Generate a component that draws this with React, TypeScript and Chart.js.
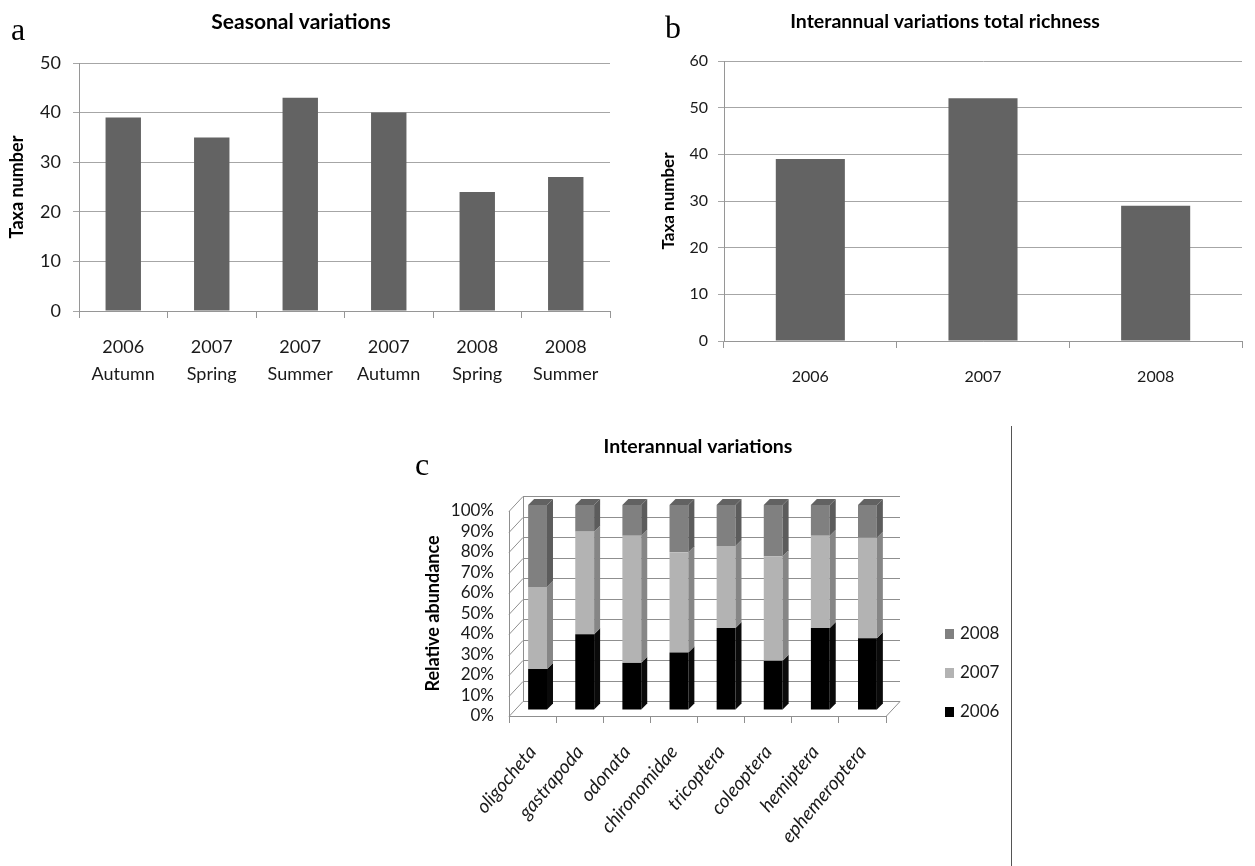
import React, { useEffect, useRef } from 'react';
import Chart from 'chart.js/auto';

const FONT = "Lato, 'Open Sans', sans-serif";
Chart.defaults.font.family = FONT;

// ---------- Data ----------
// Panel a: seasonal variations
const seasonLabels = [
  ['2006', 'Autumn'],
  ['2007', 'Spring'],
  ['2007', 'Summer'],
  ['2007', 'Autumn'],
  ['2008', 'Spring'],
  ['2008', 'Summer'],
];
const seasonTaxa = [39, 35, 43, 40, 24, 27];
const seasonTicks = { min: 0, max: 50, step: 10 };

// Panel b: interannual total richness
const yearLabels = ['2006', '2007', '2008'];
const yearTaxa = [39, 52, 29];
const yearTicks = { min: 0, max: 60, step: 10 };

// Panel c: interannual relative abundance (%)
const taxaGroups = [
  'oligocheta',
  'gastrapoda',
  'odonata',
  'chironomidae',
  'tricoptera',
  'coleoptera',
  'hemiptera',
  'ephemeroptera',
];
const abund2006 = [20, 37, 23, 28, 40, 24, 40, 35];
const abund2007 = [40, 50, 62, 49, 40, 51, 45, 49];
const abund2008 = [40, 13, 15, 23, 20, 25, 15, 16];
const seriesYears = ['2006', '2007', '2008'];

// ---------- Styles ----------
const BAR = '#636363';
const GRID = '#a6a6a6';
const AXIS = '#969696';
const TXT = '#1a1a1a';
const C3D = ['#000000', '#b3b3b3', '#808080'];
const C3D_SIDE = ['#0a0a0a', '#868686', '#5c5c5c'];
const C3D_TOP = '#626262';
const GRID3D = '#8f8f8f';

// ---------- Plugins ----------
const panelTitle = {
  id: 'panelTitle',
  afterDraw(chart: any, _args: any, opts: any) {
    if (!opts || !opts.text) return;
    const ctx = chart.ctx;
    ctx.save();
    ctx.font = `bold ${opts.size}px ${FONT}`;
    ctx.fillStyle = '#000';
    ctx.textAlign = 'center';
    ctx.textBaseline = 'middle';
    ctx.fillText(opts.text, opts.x, opts.y);
    ctx.restore();
  },
};

const WALL_DX = 14;
const WALL_DY = 15;
const BAR_DX = 5;
const BAR_DY = 6;
const BAR_DEPTH = 6;

const wall3d = {
  id: 'wall3d',
  beforeDatasetsDraw(chart: any) {
    const { ctx, chartArea: a, scales } = chart;
    const y = scales.y;
    ctx.save();
    ctx.strokeStyle = GRID3D;
    ctx.lineWidth = 1;
    ctx.beginPath();
    y.ticks.forEach((t: any) => {
      const py = Math.round(y.getPixelForValue(t.value)) + 0.5;
      ctx.moveTo(a.left, py);
      ctx.lineTo(a.left + WALL_DX, py - WALL_DY);
      ctx.lineTo(a.right + WALL_DX, py - WALL_DY);
    });
    const bx = Math.round(a.left + WALL_DX) + 0.5;
    ctx.moveTo(bx, Math.round(y.getPixelForValue(100)) - WALL_DY);
    ctx.lineTo(bx, Math.round(y.getPixelForValue(0)) - WALL_DY);
    ctx.moveTo(a.right, Math.round(a.bottom) + 0.5);
    ctx.lineTo(a.right + WALL_DX, Math.round(a.bottom) + 0.5 - WALL_DY);
    ctx.stroke();
    ctx.restore();
    ctx.save();
    ctx.translate(BAR_DX, -BAR_DY);
  },
  afterDatasetsDraw(chart: any) {
    const ctx = chart.ctx;
    const n = chart.data.datasets.length;
    for (let i = 0; i < n; i++) {
      const meta = chart.getDatasetMeta(i);
      meta.data.forEach((bar: any) => {
        const p = bar.getProps(['x', 'y', 'base', 'width'], true);
        const x1 = p.x - p.width / 2;
        const x2 = p.x + p.width / 2;
        const top = Math.min(p.y, p.base);
        const bot = Math.max(p.y, p.base);
        ctx.fillStyle = C3D_SIDE[i];
        ctx.beginPath();
        ctx.moveTo(x2, bot);
        ctx.lineTo(x2 + BAR_DEPTH, bot - BAR_DEPTH);
        ctx.lineTo(x2 + BAR_DEPTH, top - BAR_DEPTH);
        ctx.lineTo(x2, top);
        ctx.closePath();
        ctx.fill();
        if (i === n - 1) {
          ctx.fillStyle = C3D_TOP;
          ctx.beginPath();
          ctx.moveTo(x1, top);
          ctx.lineTo(x1 + BAR_DEPTH, top - BAR_DEPTH);
          ctx.lineTo(x2 + BAR_DEPTH, top - BAR_DEPTH);
          ctx.lineTo(x2, top);
          ctx.closePath();
          ctx.fill();
        }
      });
    }
    ctx.restore();
  },
};

const sideLegend = {
  id: 'sideLegend',
  afterDraw(chart: any, _args: any, opts: any) {
    const { ctx, chartArea: a } = chart;
    const ds = chart.data.datasets;
    ctx.save();
    ctx.font = `${opts.size}px ${FONT}`;
    ctx.textBaseline = 'middle';
    ctx.textAlign = 'left';
    ds.forEach((d: any, i: number) => {
      const cy = a.bottom - 4 - i * 39;
      ctx.fillStyle = d.backgroundColor;
      ctx.fillRect(a.right + 59, cy - 5, 9, 10);
      ctx.fillStyle = TXT;
      ctx.fillText(d.label, a.right + 74, cy);
    });
    ctx.restore();
  },
};

// ---------- Chart canvas ----------
function ChartCanvas({ left, top, width, height, makeConfig }: any) {
  const ref = useRef<HTMLCanvasElement | null>(null);
  useEffect(() => {
    if (!ref.current) return;
    const chart = new Chart(ref.current, makeConfig());
    return () => chart.destroy();
  }, []);
  return (
    <canvas
      ref={ref}
      width={width}
      height={height}
      style={{ position: 'absolute', left, top, width, height }}
    />
  );
}

function simpleBarConfig(opts: any) {
  return {
    type: 'bar',
    data: {
      labels: opts.labels,
      datasets: [
        {
          data: opts.values,
          backgroundColor: BAR,
          borderWidth: 0,
          categoryPercentage: 1,
          barPercentage: 0.4,
        },
      ],
    },
    options: {
      responsive: false,
      animation: false,
      devicePixelRatio: 1,
      layout: { padding: { top: opts.top, right: opts.right, left: 0, bottom: 0 } },
      plugins: {
        legend: { display: false },
        tooltip: { enabled: false },
        title: { display: false },
        panelTitle: { text: opts.title, x: opts.titleX, y: opts.titleY, size: opts.titleSize },
      },
      scales: {
        x: {
          grid: {
            display: true,
            drawOnChartArea: false,
            drawTicks: true,
            tickLength: 7,
            color: AXIS,
            offset: true,
          },
          border: { color: AXIS },
          ticks: {
            font: { size: opts.xFont, lineHeight: opts.xLine },
            color: TXT,
            padding: opts.xPad,
            maxRotation: 0,
            minRotation: 0,
            autoSkip: false,
          },
          afterFit: (s: any) => {
            s.height = opts.xHeight;
          },
        },
        y: {
          min: opts.ticks.min,
          max: opts.ticks.max,
          ticks: {
            stepSize: opts.ticks.step,
            font: { size: opts.yFont },
            color: TXT,
            padding: opts.yPad,
            autoSkip: false,
          },
          grid: { color: GRID, tickLength: 6 },
          border: { color: AXIS },
          title: {
            display: true,
            text: 'Taxa number',
            font: { size: opts.yTitleSize, weight: 'bold' },
            color: '#000',
            padding: { top: opts.yTitlePad, bottom: 0 },
          },
          afterFit: (s: any) => {
            s.width = opts.yWidth;
          },
        },
      },
    },
    plugins: [panelTitle],
  };
}

const configA = () =>
  simpleBarConfig({
    labels: seasonLabels,
    values: seasonTaxa,
    ticks: seasonTicks,
    title: 'Seasonal variations',
    titleX: 301,
    titleY: 22,
    titleSize: 21,
    top: 63,
    right: 15,
    xHeight: 89,
    xFont: 18,
    xLine: 1.5,
    xPad: 16,
    yFont: 18,
    yPad: 12,
    yWidth: 79,
    yTitleSize: 18,
    yTitlePad: 6,
  });

const configB = () =>
  simpleBarConfig({
    labels: yearLabels,
    values: yearTaxa,
    ticks: yearTicks,
    title: 'Interannual variations total richness',
    titleX: 315,
    titleY: 22,
    titleSize: 19.5,
    top: 61,
    right: 13,
    xHeight: 59,
    xFont: 16,
    xLine: 1.2,
    xPad: 19,
    yFont: 16,
    yPad: 10,
    yWidth: 94,
    yTitleSize: 17,
    yTitlePad: 28,
  });

const configC = () => ({
  type: 'bar',
  data: {
    labels: taxaGroups,
    datasets: [abund2006, abund2007, abund2008].map((vals, i) => ({
      label: seriesYears[i],
      data: vals,
      backgroundColor: C3D[i],
      borderWidth: 0,
      categoryPercentage: 1,
      barPercentage: 0.4,
      clip: false,
    })),
  },
  options: {
    responsive: false,
    animation: false,
    devicePixelRatio: 1,
    layout: { padding: { top: 91, right: 144, left: 0, bottom: 0 } },
    plugins: {
      legend: { display: false },
      tooltip: { enabled: false },
      title: { display: false },
      panelTitle: { text: 'Interannual variations', x: 298, y: 27, size: 19.5 },
      sideLegend: { size: 17 },
    },
    scales: {
      x: {
        stacked: true,
        grid: {
          display: true,
          drawOnChartArea: false,
          drawTicks: true,
          tickLength: 7,
          color: GRID3D,
          offset: true,
        },
        border: { color: GRID3D },
        ticks: {
          font: { size: 19, style: 'italic' },
          color: TXT,
          padding: 18,
          minRotation: 50,
          maxRotation: 50,
          autoSkip: false,
        },
        afterFit: (s: any) => {
          s.height = 150;
        },
      },
      y: {
        stacked: true,
        min: 0,
        max: 100,
        ticks: {
          stepSize: 10,
          font: { size: 17, lineHeight: 1 },
          color: TXT,
          padding: 15,
          autoSkip: false,
          callback: (v: any) => v + '%',
        },
        grid: { display: true, drawOnChartArea: false, drawTicks: false, color: GRID3D },
        border: { color: GRID3D },
        title: {
          display: true,
          text: 'Relative abundance',
          font: { size: 18, weight: 'bold' },
          color: '#000',
          padding: { top: 22, bottom: 0 },
        },
        afterFit: (s: any) => {
          s.width = 109;
        },
      },
    },
  },
  plugins: [wall3d, panelTitle, sideLegend],
});

const letterStyle = (left: number, top: number): React.CSSProperties => ({
  position: 'absolute',
  left,
  top,
  fontFamily: "'Liberation Serif', 'Times New Roman', serif",
  fontSize: 32,
  lineHeight: '32px',
  color: '#000',
});

export default function App() {
  return (
    <div
      style={{
        position: 'absolute',
        left: 0,
        top: 0,
        width: 1255,
        height: 866,
        background: '#fff',
        overflow: 'hidden',
      }}
    >
      <ChartCanvas left={0} top={0} width={625} height={400} makeConfig={configA} />
      <ChartCanvas left={630} top={0} width={625} height={400} makeConfig={configB} />
      <ChartCanvas left={400} top={420} width={630} height={446} makeConfig={configC} />
      <div style={letterStyle(11, 13)}>a</div>
      <div style={letterStyle(665, 11)}>b</div>
      <div style={letterStyle(415, 448)}>c</div>
      <div
        style={{
          position: 'absolute',
          left: 1011,
          top: 426,
          width: 1,
          height: 440,
          background: '#555',
        }}
      />
    </div>
  );
}
